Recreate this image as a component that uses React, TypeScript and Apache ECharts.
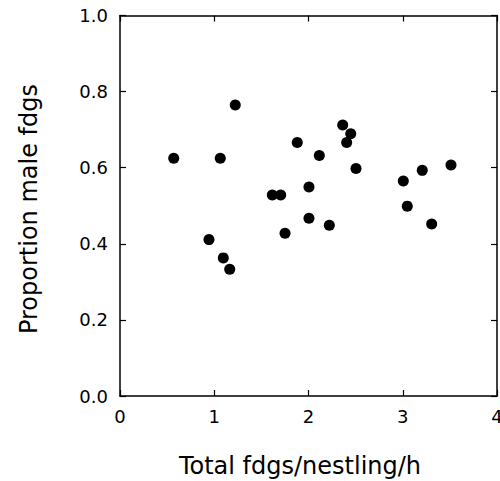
import React, { useEffect, useRef } from "react";
import * as echarts from "echarts";

const xValues = [
  0.57, 1.064, 1.223, 0.944, 1.096, 1.164, 2.363, 2.448, 2.405, 1.881, 2.115, 2.504,
  2.005, 1.616, 1.705, 2.005, 2.221, 1.751, 3.006, 3.207, 3.512, 3.048, 3.307,
];
const yValues = [
  0.625, 0.625, 0.765, 0.411, 0.363, 0.333, 0.712, 0.689, 0.666, 0.666, 0.632, 0.598,
  0.549, 0.528, 0.528, 0.467, 0.449, 0.428, 0.565, 0.593, 0.607, 0.499, 0.452,
];
const xTitle = "Total fdgs/nestling/h";
const yTitle = "Proportion male fdgs";

const FONT = "DejaVu Sans";

export default function App() {
  const ref = useRef<HTMLDivElement>(null);
  useEffect(() => {
    if (!ref.current) return;
    const chart = echarts.init(ref.current, undefined, { renderer: "svg" });
    const lineStyle = { color: "#000", width: 1.5 };
    const tick = { show: true, inside: true, length: 6, lineStyle: { color: "#000", width: 1.2 } };
    const baseAxis = {
      type: "value" as const,
      splitLine: { show: false },
      axisLine: { show: true, onZero: false, lineStyle },
      axisTick: tick,
    };
    chart.setOption({
      animation: false,
      backgroundColor: "#fff",
      grid: {
        left: 120,
        right: 3,
        top: 15.5,
        bottom: 85,
        containLabel: false,
        outerBoundsMode: "none",
      },
      xAxis: [
        {
          ...baseAxis,
          min: 0,
          max: 4,
          interval: 1,
          position: "bottom",
          axisLabel: { color: "#000", fontSize: 18, fontFamily: FONT, margin: 11 },
        },
        {
          ...baseAxis,
          min: 0,
          max: 4,
          interval: 1,
          position: "top",
          axisLabel: { show: false },
        },
      ],
      yAxis: [
        {
          ...baseAxis,
          min: 0,
          max: 1,
          interval: 0.2,
          position: "left",
          axisLabel: {
            color: "#000",
            fontSize: 18,
            fontFamily: FONT,
            margin: 12,
            formatter: (v: number) => v.toFixed(1),
          },
        },
        {
          ...baseAxis,
          min: 0,
          max: 1,
          interval: 0.2,
          position: "right",
          axisLabel: { show: false },
        },
      ],
      series: [
        {
          type: "scatter",
          xAxisIndex: 0,
          yAxisIndex: 0,
          symbol: "circle",
          symbolSize: 11,
          itemStyle: { color: "#000", opacity: 1 },
          data: xValues.map((x, i) => [x, yValues[i]]),
        },
      ],
      graphic: [
        {
          type: "text",
          x: 300,
          y: 466,
          style: {
            text: xTitle,
            fontSize: 24,
            fontFamily: FONT,
            fill: "#000",
            align: "center",
            verticalAlign: "middle",
          },
        },
        {
          type: "text",
          x: 29,
          y: 209,
          rotation: Math.PI / 2,
          style: {
            text: yTitle,
            fontSize: 24,
            fontFamily: FONT,
            fill: "#000",
            align: "center",
            verticalAlign: "middle",
          },
        },
      ],
    });
    return () => chart.dispose();
  }, []);
  return (
    <div
      ref={ref}
      style={{ position: "fixed", left: 0, top: 0, width: 500, height: 481 }}
    />
  );
}
